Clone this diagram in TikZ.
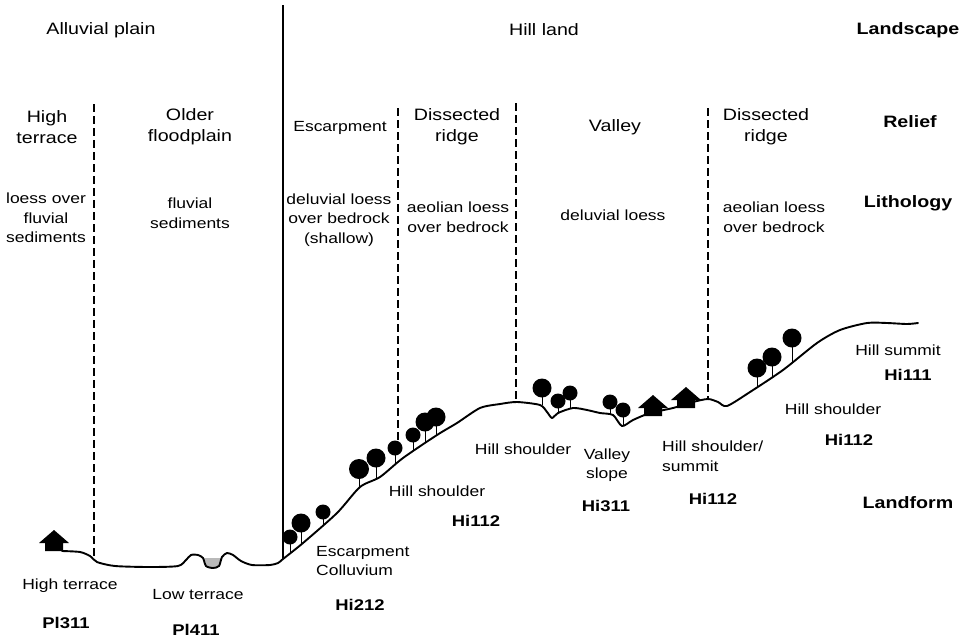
\documentclass[tikz,border=0pt]{standalone}
\usepackage{fontspec}
\setmainfont{Liberation Sans}[FakeStretch=1.19]
\usetikzlibrary{positioning}

\begin{document}
\begin{tikzpicture}[x=1pt,y=-1pt,
  big/.style={font=\fontsize{16.5}{21}\selectfont, align=center, inner sep=0pt},
  small/.style={font=\fontsize{14.7}{19.5}\selectfont, align=center, inner sep=0pt},
  code/.style={font=\fontsize{15.5}{18}\selectfont\bfseries, inner sep=0pt},
  head/.style={font=\fontsize{16.5}{20}\selectfont\bfseries, inner sep=0pt},
  border/.style={line width=1.8pt, dash pattern=on 8pt off 4pt},
  ground/.style={line width=1.9pt, line join=round, line cap=round}]
\useasboundingbox (0,0) rectangle (964,641);

% unit borders
\draw[line width=1.8pt] (283,5) -- (283,559);
\draw[border] (94,104) -- (94,557);
\draw[border] (398,108) -- (398,443);
\draw[border] (516,103) -- (516,402);
\draw[border] (708,108) -- (708,399);

% pond on the low terrace
\fill[gray!55] (204,558) -- (221,558) -- (219,566) -- (213,568) -- (207,567) -- cycle;

% terrain profile
\draw[ground] plot[smooth, tension=0.45] coordinates {
  (62,551) (80,552) (90,556) (97,562) (115,566) (150,567) (178,566) (186,560)
  (191,555) (198,555) (203,558) (206,566) (213,568) (219,566) (222,557)
  (227,553) (233,555) (241,561) (252,565) (270,565) (278,563) (283,559)
  (303,543) (337,513) (360,487) (380,477) (403,458) (437,435) (457,423)
  (480,408) (500,404) (517,402) (540,405) (547,412) (552,418) (558,413)
  (573,408) (587,410) (600,413) (613,415) (622,426) (633,420) (650,413)
  (673,408) (693,402) (708,399) (718,402) (727,406) (750,392) (783,370)
  (817,343) (840,330) (867,323) (887,323) (907,324) (918,323)};

% trees: x/y of crown, radius, ground level
\foreach \x/\y/\r/\g in {290/537/7.5/553, 301/523/9.5/544, 323/512/7.5/525,
    359/469/10/488, 376/458/9.5/479, 395/448/7.5/464, 413/435/7.5/451,
    425/422/9.5/443, 436/417/9.5/436, 542/388/9.5/405, 558/401/7.5/414,
    570/393/7.5/408, 610/402/7.5/414, 623/410/7.5/426, 757/368/9.5/388,
    772/357/9.5/377, 792/338/9.5/362}
{
  \draw[line width=1pt] (\x,\g) -- (\x,\y);
  \fill (\x,\y) circle (\r pt);
}

% houses: centre of the eaves line
\foreach \x/\y in {54/543, 653/408, 686/400}
  \fill (\x,\y) ++(-15,0) -- ++(15,-13) -- ++(15,13) -- ++(-6,0)
    -- ++(0,8) -- ++(-18,0) -- ++(0,-8) -- cycle;

% landscape
\node[big] (alluvial) at (101,30) {Alluvial plain};
\node[big] (hillland) at (544,30) {Hill land};
\node[head] (landscape) at (908,30) {Landscape};

% relief
\node[big] (highterrace) at (47,127) {High\\terrace};
\node[big] (older) at (190,127) {Older\\floodplain};
\node[small] (escarpment) at (340,128) {Escarpment};
\node[big] (ridgeA) at (457,127) {Dissected\\ridge};
\node[big] (valley) at (615,127) {Valley};
\node[big] (ridgeB) at (766,127) {Dissected\\ridge};
\node[head] (relief) at (910,122) {Relief};

% lithology
\node[small] (lithA) at (46,218) {loess over\\fluvial\\sediments};
\node[small] (lithB) at (190,213) {fluvial\\sediments};
\node[small] (lithC) at (339,220) {deluvial loess\\over bedrock\\(shallow)};
\node[small] (lithD) at (458,217) {aeolian loess\\over bedrock};
\node[small] (lithE) at (613,215) {deluvial loess};
\node[small] (lithF) at (774,217) {aeolian loess\\over bedrock};
\node[head] (lithology) at (908,203) {Lithology};

% landforms
\node[small] (formA) at (70,586) {High terrace};
\node[code] (codeA) at (66,623) {Pl311};
\node[small] (formB) at (198,595) {Low terrace};
\node[code] (codeB) at (196,630) {Pl411};
\node[small, align=left, anchor=west] (formC) at (316,561) {Escarpment\\Colluvium};
\node[code] (codeC) at (360,605) {Hi212};
\node[small] (formD) at (437,491) {Hill shoulder};
\node[code] (codeD) at (476,521) {Hi112};
\node[small] (formE) at (523,449) {Hill shoulder};
\node[small] (formF) at (607,465) {Valley\\slope};
\node[code] (codeF) at (606,506) {Hi311};
\node[small, align=left, anchor=west] (formG) at (662,456) {Hill shoulder/\\summit};
\node[code] (codeG) at (713,499) {Hi112};
\node[small] (formH) at (833,409) {Hill shoulder};
\node[code] (codeH) at (849,440) {Hi112};
\node[small] (formI) at (898,350) {Hill summit};
\node[code] (codeI) at (908,375) {Hi111};
\node[head] (landform) at (908,503) {Landform};
\end{tikzpicture}
\end{document}
